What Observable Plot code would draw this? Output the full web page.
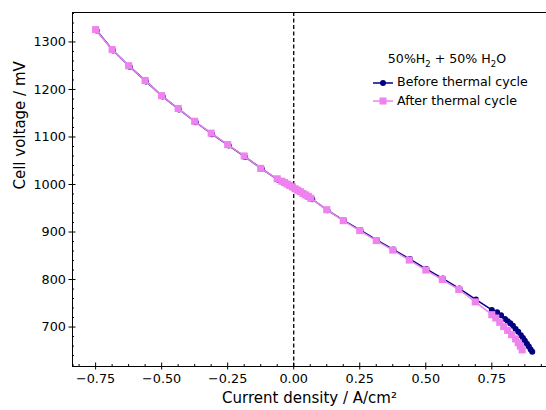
<!DOCTYPE html>
<html><head><meta charset="utf-8">
<script src="https://cdn.jsdelivr.net/npm/d3@7"></script>
<script src="https://cdn.jsdelivr.net/npm/@observablehq/plot@0.6"></script>
<style>
body{margin:0;background:#fff;font-family:"DejaVu Sans",sans-serif;}
#wrap{position:relative;width:546px;height:410px;}
#legend{position:absolute;left:370px;top:50px;width:152px;font-size:12.6px;color:#000;line-height:18.7px;}
#legend .t{text-align:center;padding-left:2px;}
#legend .row{display:flex;align-items:center;white-space:nowrap;}
#legend svg{margin-right:1px;flex-shrink:0;}
</style></head>
<body><div id="wrap"><div id="chart"></div>
<div id="legend">
<div class="t">50%H<sub style="font-size:8.5px">2</sub> + 50% H<sub style="font-size:8.5px">2</sub>O</div>
<div class="row"><svg width="26" height="10"><line x1="3" x2="23" y1="5" y2="5" stroke="#000080" stroke-width="1.5"/><circle cx="13" cy="5" r="3" fill="#000080"/></svg>Before thermal cycle</div>
<div class="row"><svg width="26" height="10"><line x1="3" x2="23" y1="5" y2="5" stroke="#ee82ee" stroke-width="1.5"/><rect x="9.5" y="1.5" width="7" height="7" fill="#ee82ee"/></svg>After thermal cycle</div>
</div></div>
<script>
const beforeX = [-0.746,-0.684,-0.621,-0.559,-0.496,-0.434,-0.371,-0.309,-0.246,-0.184,-0.121,-0.059,
 -0.04,-0.03,-0.02,-0.01,0,0.01,0.02,0.03,0.04,0.05,0.06,0.07,
 0.1275,0.19,0.2525,0.315,0.3775,0.44,0.5025,0.565,0.6275,0.69,0.75,
 0.77,0.785,0.80,0.81,0.82,0.83,0.84,0.85,0.86,0.868,0.875,0.883,0.89,0.897,0.903];
const beforeV = [1324,1282,1248,1217,1185,1158,1131,1106,1082,1058,1033,1010,
 1005,1002,999,996,993,990,986,983,980,976,973,969,
 946,924,904,883,863,843,822,802,781,758,736,
 731,725,717,712,708,703,696,690,683,677,671,665,659,653,648];
const afterX = [-0.75,-0.6875,-0.625,-0.5625,-0.5,-0.4375,-0.375,-0.3125,-0.25,-0.1875,-0.125,-0.0625,
 -0.045,-0.035,-0.025,-0.015,-0.005,0.005,0.015,0.025,0.035,0.045,0.055,0.065,
 0.125,0.1875,0.25,0.3125,0.375,0.4375,0.5,0.5625,0.625,0.6875,0.75,
 0.765,0.78,0.795,0.81,0.825,0.84,0.85,0.858,0.865];
const afterV = [1326,1284,1250,1219,1187,1160,1133,1108,1084,1060,1034,1012,
 1007,1004,1001,998,995,991,988,985,981,978,975,971,
 947,924,903,882,862,841,820,800,779,753,726,
 719,710,701,693,684,675,667,660,652];
const xMajor = [-0.75,-0.5,-0.25,0,0.25,0.5,0.75];
const yMajor = [700,800,900,1000,1100,1200,1300];

const before = beforeX.map((x,i)=>({x, v: beforeV[i]}));
const after = afterX.map((x,i)=>({x, v: afterV[i]}));
const xMinor = d3.range(-0.8125, 0.96, 0.0625).filter(t => !xMajor.some(m => Math.abs(m-t)<1e-6));
const yMinor = d3.range(620, 1361, 20).filter(t => t % 100 !== 0);
const fmtX = d3.format(".2f");
const fmtY = d3.format("d");
const font = "DejaVu Sans";

const chart = Plot.plot({
  width: 546, height: 410,
  marginLeft: 72, marginRight: 0, marginTop: 12, marginBottom: 44,
  style: {fontFamily: font, fontSize: "12.8px", color: "#000", background: "#fff", overflow: "visible"},
  x: {domain: [-0.8375, 0.957]},
  y: {domain: [617, 1362]},
  marks: [
    Plot.ruleX([0], {stroke: "#000", strokeWidth: 1.3, strokeDasharray: "4,2.5"}),
    Plot.line(before, {x: "x", y: "v", stroke: "#000080", strokeWidth: 1.5}),
    Plot.dot(before, {x: "x", y: "v", r: 3, fill: "#000080"}),
    Plot.line(after, {x: "x", y: "v", stroke: "#ee82ee", strokeWidth: 1.5}),
    Plot.dot(after, {x: "x", y: "v", r: 4, symbol: "square", fill: "#ee82ee"}),
    Plot.axisX({ticks: xMajor, tickFormat: fmtX, tickSize: 3.5, tickPadding: 4, label: null, fontSize: 12.8}),
    Plot.axisX({ticks: xMajor, tickSize: -3.5, text: null, label: null}),
    Plot.axisX({ticks: xMinor, tickSize: -2, text: null, label: null}),
    Plot.axisY({ticks: yMajor, tickFormat: fmtY, tickSize: 3.5, tickPadding: 3, label: null, fontSize: 12.8}),
    Plot.axisY({ticks: yMajor, tickSize: -3.5, text: null, label: null}),
    Plot.axisY({ticks: yMinor, tickSize: -2, text: null, label: null}),
    Plot.frame({anchor: "left", stroke: "#000", strokeWidth: 1}),
    Plot.frame({anchor: "bottom", stroke: "#000", strokeWidth: 1}),
    Plot.frame({anchor: "top", stroke: "#000", strokeWidth: 1}),
    Plot.text(["Current density / A/cm²"], {frameAnchor: "bottom", dy: 36, fontSize: 15, fill: "#000"}),
    Plot.text(["Cell voltage / mV"], {frameAnchor: "left", rotate: -90, dx: -52, fontSize: 15, fill: "#000"})
  ]
});
document.getElementById("chart").append(chart);
</script></body></html>
